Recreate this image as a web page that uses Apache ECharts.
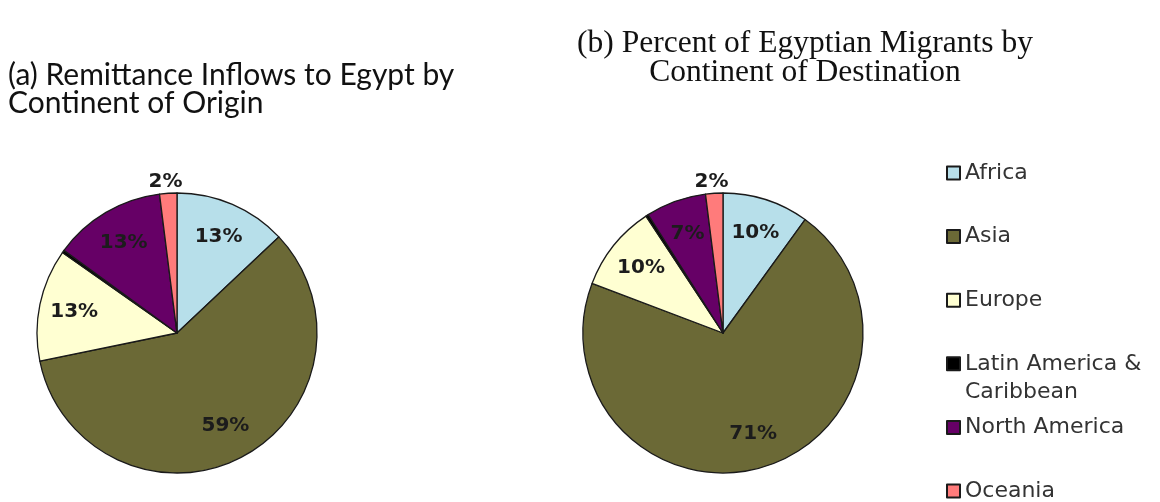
<!DOCTYPE html>
<html>
<head>
<meta charset="utf-8">
<script src="https://cdn.jsdelivr.net/npm/echarts@6/dist/echarts.min.js"></script>
<style>
  html, body { margin: 0; padding: 0; background: #fff; }
  #main { width: 1160px; height: 502px; }
</style>
</head>
<body>
<div id="main"></div>
<script>
// data (percent shares)
const regions = ['Africa', 'Asia', 'Europe', 'Latin America & Caribbean', 'North America', 'Oceania'];
const remittanceShare = [13, 59, 13, 0.3, 13, 2];
const migrantShare = [10, 71, 10, 0.3, 7, 2];
const palette = ['#b7dfea', '#6b6936', '#ffffd2', '#000000', '#660066', '#ff7b7b'];

const chart = echarts.init(document.getElementById('main'));

function sliceData(values) {
  return regions.map((name, i) => ({
    name: name,
    value: values[i],
    itemStyle: { color: palette[i] }
  }));
}

// labels sit on a transparent copy of each pie so they land at ~0.73 of the radius
function labelData(values) {
  return regions.map((name, i) => {
    const item = { name: name, value: values[i] };
    if (name === 'Latin America & Caribbean') {
      item.label = { show: false };
    } else if (name === 'Oceania') {
      item.label = { position: 'outside', offset: [20, 0] };
      item.labelLine = { show: false, length: 12, length2: 0 };
    }
    return item;
  });
}

function basePie(center, values) {
  return {
    type: 'pie',
    center: center,
    radius: 140,
    startAngle: 90,
    silent: true,
    label: { show: false },
    labelLine: { show: false },
    itemStyle: { borderColor: '#1a1a1a', borderWidth: 1.3 },
    data: sliceData(values)
  };
}

function labelPie(center, values) {
  return {
    type: 'pie',
    center: center,
    radius: [64, 140],
    startAngle: 90,
    silent: true,
    legendHoverLink: false,
    avoidLabelOverlap: false,
    itemStyle: { color: 'rgba(0,0,0,0)', borderWidth: 0 },
    label: {
      show: true,
      position: 'inside',
      formatter: '{c}%',
      fontFamily: 'DejaVu Sans',
      fontWeight: 'bold',
      fontSize: 20,
      color: '#1c1c1c'
    },
    labelLine: { show: false },
    data: labelData(values)
  };
}

const option = {
  backgroundColor: '#fff',
  animation: false,
  title: [
    {
      text: '(a) Remittance Inflows to Egypt by\nContinent of Origin',
      left: 8,
      top: 61,
      padding: 0,
      textStyle: { fontFamily: 'Lato', fontWeight: 'normal', fontSize: 30, lineHeight: 28, color: '#111' }
    },
    {
      text: '(b) Percent of Egyptian Migrants by\nContinent of Destination',
      left: 805,
      top: 29,
      padding: 0,
      textAlign: 'center',
      textStyle: { fontFamily: 'Liberation Serif', fontWeight: 'normal', fontSize: 31.5, lineHeight: 29, color: '#111' }
    }
  ],
  legend: {
    orient: 'vertical',
    left: 946,
    top: 162,
    padding: 0,
    itemWidth: 13,
    itemHeight: 13,
    itemGap: 41.6,
    icon: 'rect',
    selectedMode: false,
    data: regions,
    formatter: name => name === 'Latin America & Caribbean' ? 'Latin America &' : name,
    textStyle: { fontFamily: 'DejaVu Sans', fontSize: 22, lineHeight: 22, color: '#333' }
  },
  graphic: [
    {
      type: 'text',
      left: 965,
      top: 381,
      style: { text: 'Caribbean', fontFamily: 'DejaVu Sans', fontSize: 22, fill: '#333' }
    }
  ],
  series: [
    basePie([177, 333], remittanceShare),
    basePie([723, 333], migrantShare),
    labelPie([177, 333], remittanceShare),
    labelPie([723, 333], migrantShare)
  ]
};

option && chart.setOption(option);
</script>
</body>
</html>
